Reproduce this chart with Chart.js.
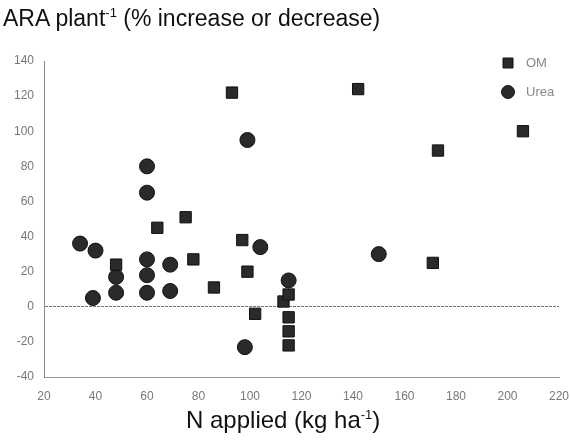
<!DOCTYPE html>
<html>
<head>
<meta charset="utf-8">
<script src="https://cdn.jsdelivr.net/npm/chart.js@4.4.1/dist/chart.umd.min.js"></script>
<style>
  html, body { margin: 0; padding: 0; background: #fff; }
  #wrap { position: relative; width: 570px; height: 444px; }
  #chart { position: absolute; left: 0; top: 0; }
  .axis-title {
    position: absolute;
    font-family: 'Liberation Sans', Arial, sans-serif;
    font-size: 23px;
    color: #111;
    white-space: nowrap;
  }
  .axis-title sup { font-size: 13px; vertical-align: 9px; line-height: 0; }
  #ytitle { left: 3px; top: 5px; }
  #xtitle { left: 186px; top: 406px; font-size: 24px; }
</style>
</head>
<body>
<div id="wrap">
  <canvas id="chart" width="570" height="444"></canvas>
  <div class="axis-title" id="ytitle">ARA plant<sup>-1</sup> (% increase or decrease)</div>
  <div class="axis-title" id="xtitle">N applied (kg ha<sup>-1</sup>)</div>
</div>
<script>
// N rate (kg/ha) and change in ARA per plant (%)
const omN = [48, 64, 75, 78, 86, 93, 97, 99, 102, 113, 115, 115, 115, 115, 142, 173, 171, 206]
const omChange = [24, 45, 51, 27, 11, 122, 38, 20, -4, 3, 7, -6, -14, -22, 124, 89, 25, 100]

const ureaN = [34, 40, 39, 48, 48, 60, 60, 60, 60, 60, 69, 69, 99, 104, 115, 98, 150]
const ureaChange = [36, 32, 5, 17, 8, 80, 65, 27, 18, 8, 24, 9, 95, 34, 15, -23, 30]

const xTicks = [20, 40, 60, 80, 100, 120, 140, 160, 180, 200, 220]
const yTicks = [-40, -20, 0, 20, 40, 60, 80, 100, 120, 140]

const toPoints = (xs, ys) => xs.map((x, i) => ({ x: x, y: ys[i] }))

const markFill = '#2a2a2a'
const markEdge = '#111'

// small legend in the top right corner of the plot
const cornerLegend = {
  id: 'cornerLegend',
  afterDraw (chart) {
    const ctx = chart.ctx
    ctx.save()
    ctx.font = '13px "Liberation Sans", Arial, sans-serif'
    ctx.textBaseline = 'middle'
    chart.data.datasets.forEach((ds, i) => {
      const y = 63 + i * 29
      ctx.fillStyle = markFill
      ctx.strokeStyle = markEdge
      ctx.lineWidth = 1
      ctx.beginPath()
      if (ds.pointStyle === 'rect') {
        ctx.rect(503, y - 5, 10, 10)
      } else {
        ctx.arc(508, y, 6.5, 0, Math.PI * 2)
      }
      ctx.fill()
      ctx.stroke()
      ctx.fillStyle = '#888'
      ctx.fillText(ds.label, 526, y)
    })
    ctx.restore()
  }
}

const ctx = document.getElementById('chart').getContext('2d')
new Chart(ctx, {
  type: 'scatter',
  data: {
    datasets: [
      {
        label: 'OM',
        data: toPoints(omN, omChange),
        pointStyle: 'rect',
        pointRadius: 8,
        backgroundColor: markFill,
        borderColor: markEdge,
        borderWidth: 1
      },
      {
        label: 'Urea',
        data: toPoints(ureaN, ureaChange),
        pointStyle: 'circle',
        pointRadius: 7.5,
        backgroundColor: markFill,
        borderColor: markEdge,
        borderWidth: 1
      }
    ]
  },
  options: {
    responsive: false,
    animation: false,
    layout: { padding: { top: 61, right: 0, left: 0, bottom: 0 } },
    plugins: {
      legend: { display: false },
      tooltip: { enabled: false }
    },
    scales: {
      x: {
        type: 'linear',
        min: 20,
        max: 220,
        afterFit: (scale) => {
          scale.height = 67
          // keep the last tick near the right edge
          scale.paddingRight = 11
          scale.paddingLeft = 0
        },
        afterBuildTicks: (scale) => { scale.ticks = xTicks.map(v => ({ value: v })) },
        ticks: {
          padding: 12,
          color: '#777',
          font: { family: '"Liberation Sans", Arial, sans-serif', size: 12 }
        },
        grid: { display: false, drawTicks: false },
        border: { display: true, color: '#999', width: 1, dash: [4, 2] }
      },
      y: {
        type: 'linear',
        min: -40,
        max: 140,
        afterFit: (scale) => { scale.width = 44 },
        afterBuildTicks: (scale) => { scale.ticks = yTicks.map(v => ({ value: v })) },
        ticks: {
          padding: 10,
          color: '#777',
          font: { family: '"Liberation Sans", Arial, sans-serif', size: 12 }
        },
        grid: {
          drawTicks: false,
          color: (c) => c.tick && c.tick.value === 0 ? 'rgba(90,90,90,0.85)' : 'rgba(0,0,0,0)',
          lineWidth: 1
        },
        border: { display: true, color: '#888', width: 1, dash: [3, 1] }
      }
    }
  },
  plugins: [cornerLegend]
})
</script>
</body>
</html>
